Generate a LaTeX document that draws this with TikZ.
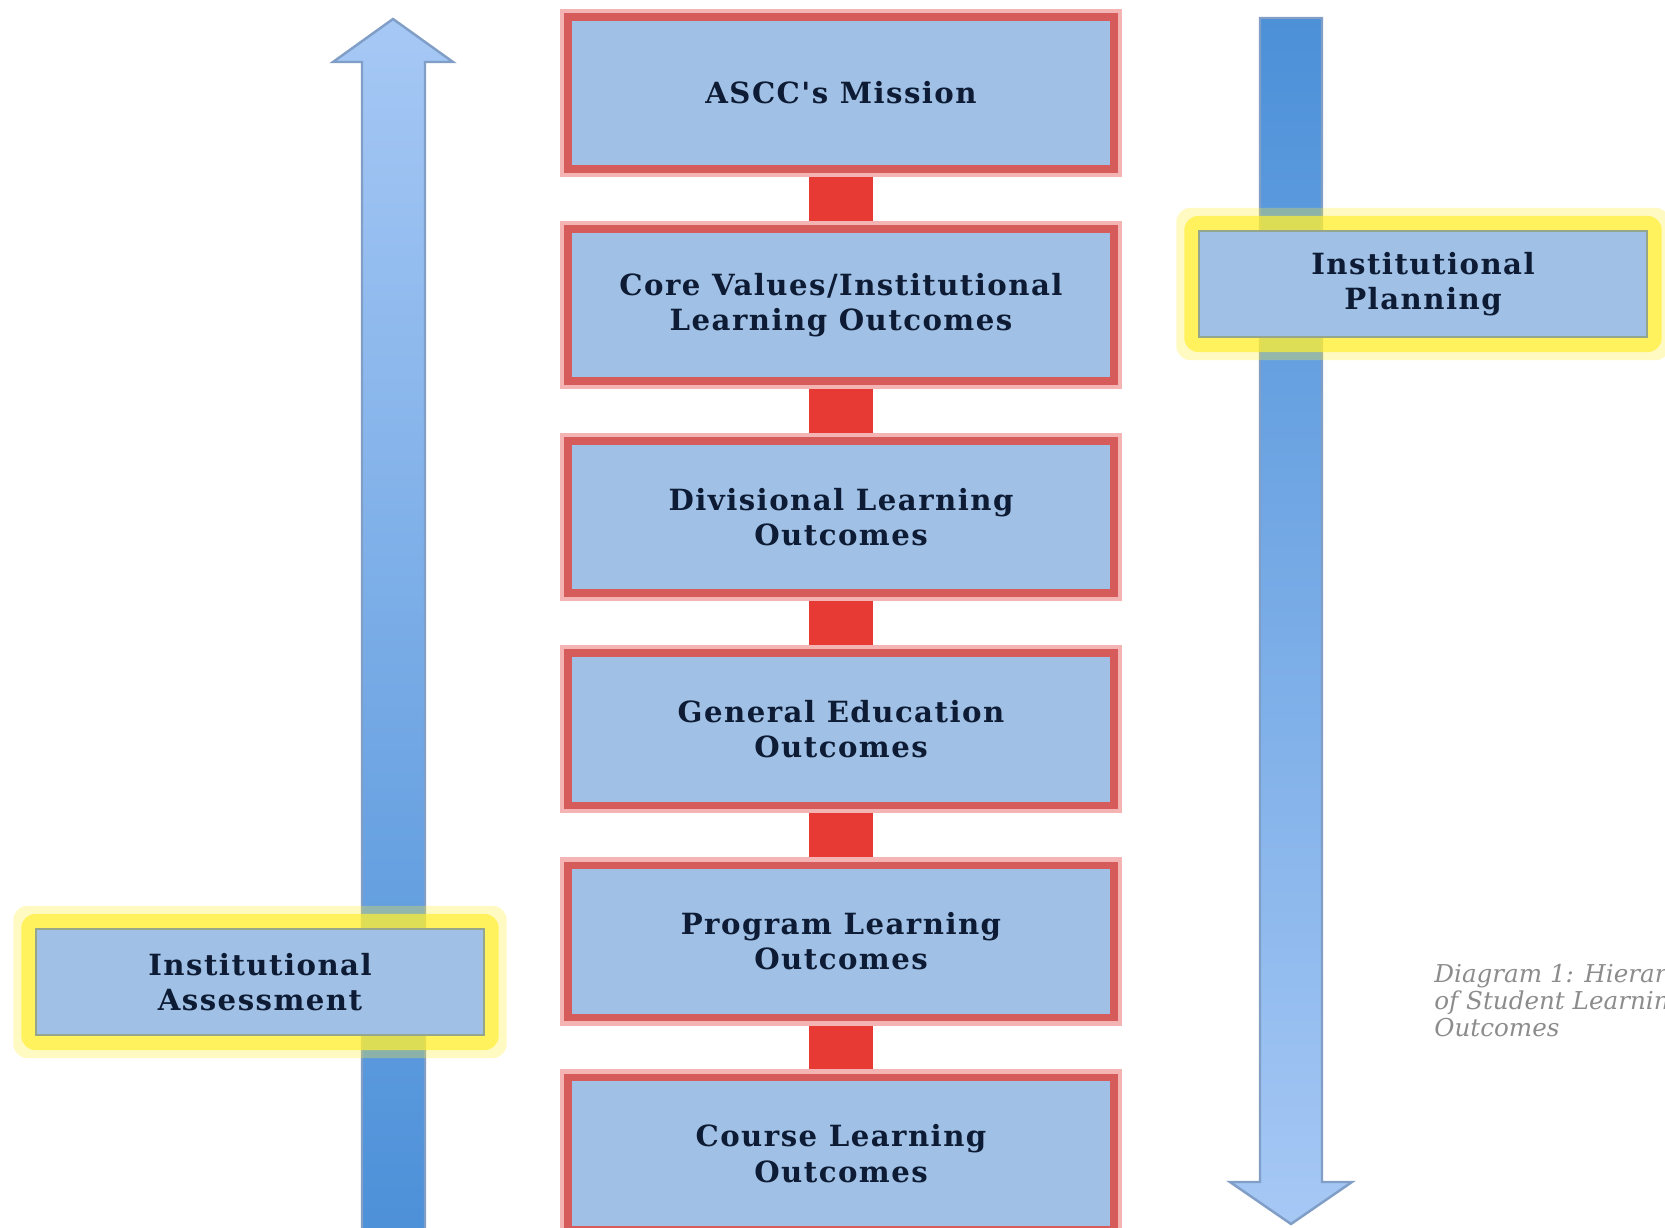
\documentclass[tikz,border=0pt]{standalone}
\usepackage{fontspec}
\setmainfont{DejaVu Serif}
\newfontfamily\boxfont[LetterSpace=5]{DejaVu Serif}
\usetikzlibrary{positioning,calc,backgrounds}
\definecolor{boxblue}{RGB}{160,193,229}
\definecolor{boxred}{RGB}{214,92,92}
\definecolor{boxglow}{RGB}{244,180,180}
\definecolor{linkred}{RGB}{232,58,52}
\definecolor{textnavy}{RGB}{14,27,52}
\definecolor{arrowlight}{RGB}{166,200,245}
\definecolor{arrowmid}{RGB}{128,176,234}
\definecolor{arrowdark}{RGB}{76,144,216}
\definecolor{arrowedge}{RGB}{128,158,198}
\definecolor{glowyellow}{RGB}{255,238,50}
\definecolor{sideedge}{RGB}{150,166,140}
\definecolor{notegray}{RGB}{140,140,140}
\tikzset{
  level/.style={draw=boxred, line width=2.2pt, fill=boxblue, minimum width=5.45cm, minimum height=1.52cm,
    outer sep=0pt, align=center, text=textnavy, font=\boxfont\bfseries\fontsize{8.3}{10}\selectfont,
    preaction={draw=boxglow, line width=4.6pt}},
  link/.style={linkred, line width=0.64cm},
  side/.style={draw=sideedge, line width=0.6pt, fill=boxblue, minimum width=4.47cm, minimum height=1.06cm,
    align=center, text=textnavy, font=\boxfont\bfseries\fontsize{8.3}{10}\selectfont},
  halo/.style={fill=glowyellow, rounded corners=4pt},
  bigarrow/.style={draw=arrowedge, line width=0.7pt},
  note/.style={text=notegray, align=left, font=\itshape\fontsize{7}{7.8}\selectfont}
}

\begin{document}
\begin{tikzpicture}[x=0.01cm, y=-0.01cm, node distance=0.6cm]
  \useasboundingbox (0,0) rectangle (1665,1228);
  \clip (0,0) rectangle (1665,1228);

  % hierarchy of outcomes
  \node[level] (mission) at (841,93) {ASCC's Mission};
  \node[level, below=of mission] (values) {Core Values/Institutional\\Learning Outcomes};
  \node[level, below=of values] (division) {Divisional Learning\\Outcomes};
  \node[level, below=of division] (gened) {General Education\\Outcomes};
  \node[level, below=of gened] (program) {Program Learning\\Outcomes};
  \node[level, below=of program] (course) {Course Learning\\Outcomes};

  % side labels
  \node[side] (plan) at (1423,284) {Institutional\\Planning};
  \node[side] (assess) at (260,982) {Institutional\\Assessment};

  \node[note, anchor=north west] (caption) at (1422,951)
    {Diagram 1: Hierarchy\\of Student Learning\\Outcomes};

  \begin{scope}[on background layer]
    % block arrows
    \path[bigarrow, top color=arrowlight, middle color=arrowmid, bottom color=arrowdark]
      (362,1240) -- (362,62) -- (333,62) -- (393,19) -- (453,62) -- (425,62) -- (425,1240) -- cycle;
    \path[bigarrow, top color=arrowdark, middle color=arrowmid, bottom color=arrowlight]
      (1260,18) -- (1322,18) -- (1322,1182) -- (1352,1182) -- (1291,1224) -- (1230,1182) -- (1260,1182) -- cycle;
    % links between levels
    \foreach \a/\b in {mission/values, values/division, division/gened, gened/program, program/course}
      \draw[link] (\a.south) -- (\b.north);
    % yellow glow round the side labels
    \foreach \n in {plan, assess} {
      \fill[halo, opacity=0.3] ($(\n.south west)+(-22,22)$) rectangle ($(\n.north east)+(22,-22)$);
      \fill[halo, opacity=0.7] ($(\n.south west)+(-14,14)$) rectangle ($(\n.north east)+(14,-14)$);
    }
  \end{scope}
\end{tikzpicture}
\end{document}
